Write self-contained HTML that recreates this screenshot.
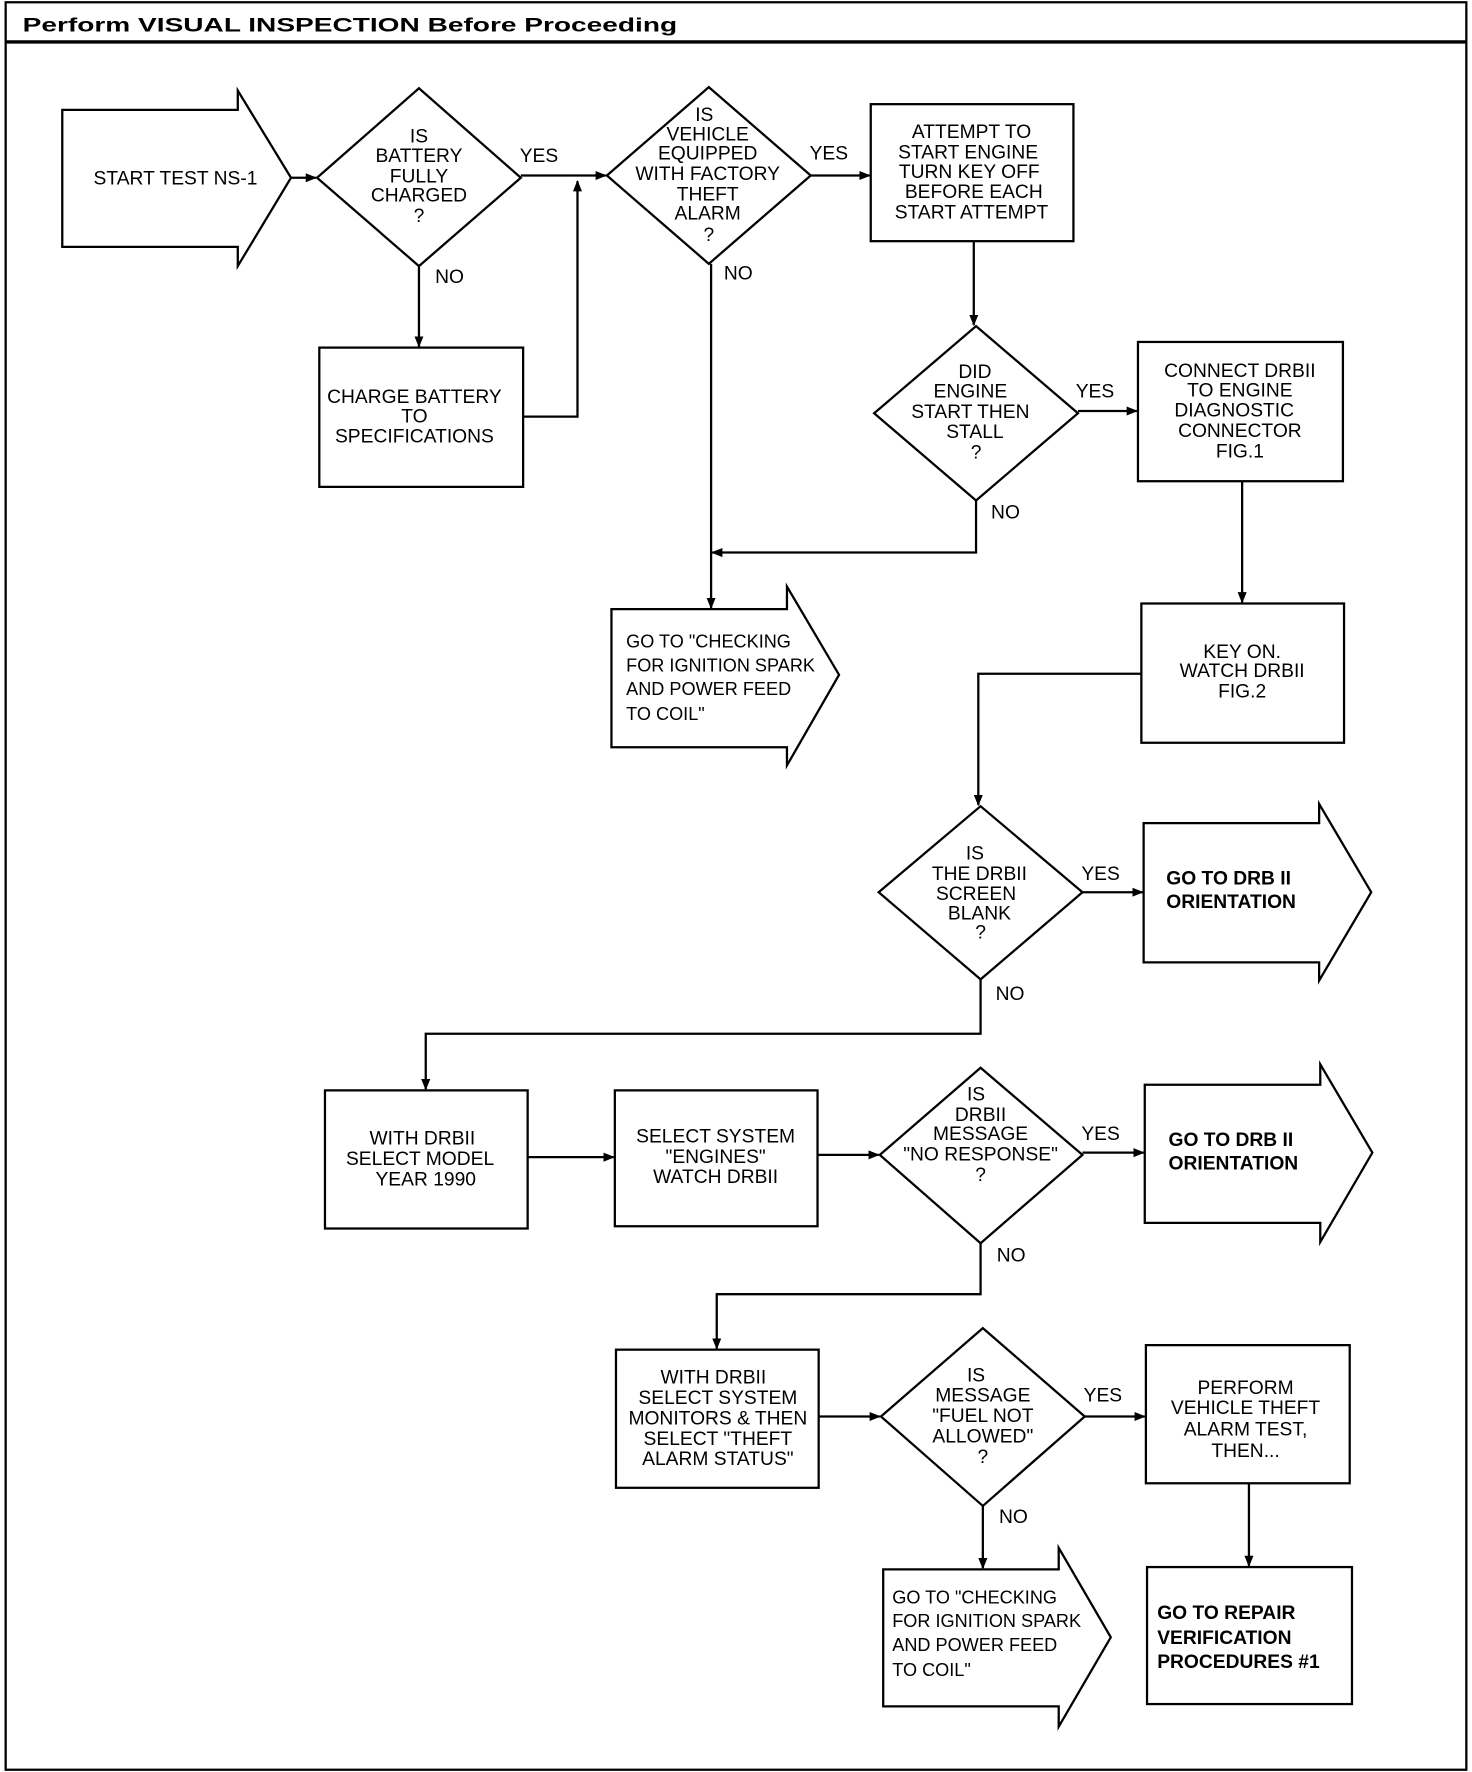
<!DOCTYPE html>
<html><head><meta charset="utf-8"><style>
html,body{margin:0;padding:0;background:#fff}
svg{display:block}
.t{font-family:"Liberation Sans Narrow","Liberation Sans",sans-serif;font-size:17px;text-anchor:middle;fill:#000}
.l{text-anchor:start;font-size:16px}
.b{font-family:"Liberation Sans",sans-serif;font-weight:bold;font-size:17px;fill:#000}
.s{fill:none;stroke:#000;stroke-width:2}
</style></head><body>
<svg width="1472" height="1772" viewBox="0 0 1300 1565" preserveAspectRatio="none" xmlns="http://www.w3.org/2000/svg">
<defs><marker id="a" markerWidth="10" markerHeight="10" refX="9" refY="5" orient="auto" markerUnits="userSpaceOnUse"><path d="M0,1 L10,5 L0,9 z" fill="#000"/></marker></defs>
<rect x="5" y="2" width="1290" height="1561" class="s" stroke-width="3"/>
<line x1="5" y1="37" x2="1295" y2="37" stroke="#000" stroke-width="3"/>
<text x="20" y="28" class="b" font-size="22" textLength="578" lengthAdjust="spacingAndGlyphs">Perform VISUAL INSPECTION Before Proceeding</text>

<g class="s">
<polygon points="55,97 210,97 210,80 257,157 210,235 210,218 55,218"/>
<polygon points="280,157 370,78 460,157 370,235"/>
<polygon points="536,155 626,77 716,155 626,233"/>
<rect x="769" y="92" width="179" height="121"/>
<polygon points="772,365 862,288 952,365 862,442"/>
<rect x="282" y="307" width="180" height="123"/>
<rect x="1005" y="302" width="181" height="123"/>
<rect x="1008" y="533" width="179" height="123"/>
<polygon points="540,538 695,538 695,518 741,596 695,676 695,660 540,660"/>
<polygon points="776,788 866,712 956,788 866,865"/>
<polygon points="1010,727 1165,727 1165,710 1211,788 1165,866 1165,850 1010,850"/>
<rect x="287" y="963" width="179" height="122"/>
<rect x="543" y="963" width="179" height="120"/>
<polygon points="777,1020 866,943 956,1020 866,1098"/>
<polygon points="1011,958 1166,958 1166,940 1212,1018 1166,1097 1166,1080 1011,1080"/>
<rect x="544" y="1192" width="179" height="122"/>
<polygon points="778,1251 868,1173 958,1251 868,1330"/>
<rect x="1012" y="1188" width="180" height="122"/>
<rect x="1013" y="1384" width="181" height="121"/>
<polygon points="780,1386 935,1386 935,1367 981,1446 935,1525 935,1507 780,1507"/>

<path d="M257,157 L279,157" marker-end="url(#a)"/>
<path d="M460,155 L535,155" marker-end="url(#a)"/>
<path d="M462,368 L510,368 L510,160" marker-end="url(#a)"/>
<path d="M370,235 L370,306" marker-end="url(#a)"/>
<path d="M716,155 L768,155" marker-end="url(#a)"/>
<path d="M628,233 L628,537" marker-end="url(#a)"/>
<path d="M860,213 L860,287" marker-end="url(#a)"/>
<path d="M952,363 L1004,363" marker-end="url(#a)"/>
<path d="M862,442 L862,488 L629,488" marker-end="url(#a)"/>
<path d="M1097,425 L1097,532" marker-end="url(#a)"/>
<path d="M1008,595 L864,595 L864,711" marker-end="url(#a)"/>
<path d="M956,788 L1009,788" marker-end="url(#a)"/>
<path d="M866,865 L866,913 L376,913 L376,962" marker-end="url(#a)"/>
<path d="M466,1022 L542,1022" marker-end="url(#a)"/>
<path d="M722,1020 L776,1020" marker-end="url(#a)"/>
<path d="M956,1018 L1010,1018" marker-end="url(#a)"/>
<path d="M866,1098 L866,1143 L633,1143 L633,1191" marker-end="url(#a)"/>
<path d="M723,1251 L777,1251" marker-end="url(#a)"/>
<path d="M958,1251 L1011,1251" marker-end="url(#a)"/>
<path d="M1103,1310 L1103,1383" marker-end="url(#a)"/>
<path d="M868,1330 L868,1385" marker-end="url(#a)"/>
</g>

<g class="t">
<text x="155" y="163">START TEST NS-1</text>
<text x="370" y="126">IS</text><text x="370" y="143">BATTERY</text><text x="370" y="161">FULLY</text><text x="370" y="178">CHARGED</text><text x="370" y="196">?</text>
<text x="476" y="143">YES</text><text x="397" y="250">NO</text>
<text x="366" y="356">CHARGE BATTERY</text><text x="366" y="373">TO</text><text x="366" y="391">SPECIFICATIONS</text>
<text x="622" y="107">IS</text><text x="625" y="124">VEHICLE</text><text x="625" y="141">EQUIPPED</text><text x="625" y="159">WITH FACTORY</text><text x="625" y="177">THEFT</text><text x="625" y="194">ALARM</text><text x="626" y="213">?</text>
<text x="732" y="141">YES</text><text x="652" y="247">NO</text>
<text x="858" y="122">ATTEMPT TO</text><text x="855" y="140">START ENGINE</text><text x="856" y="157">TURN KEY OFF</text><text x="860" y="175">BEFORE EACH</text><text x="858" y="193">START ATTEMPT</text>
<text x="861" y="334">DID</text><text x="857" y="351">ENGINE</text><text x="857" y="369">START THEN</text><text x="861" y="387">STALL</text><text x="862" y="405">?</text>
<text x="967" y="351">YES</text><text x="888" y="458">NO</text>
<text x="1095" y="333">CONNECT DRBII</text><text x="1095" y="350">TO ENGINE</text><text x="1090" y="368">DIAGNOSTIC</text><text x="1095" y="386">CONNECTOR</text><text x="1095" y="404">FIG.1</text>
<text x="1097" y="581">KEY ON.</text><text x="1097" y="598">WATCH DRBII</text><text x="1097" y="616">FIG.2</text>
<text class="t l" x="553" y="572">GO TO "CHECKING</text><text class="t l" x="553" y="593">FOR IGNITION SPARK</text><text class="t l" x="553" y="614">AND POWER FEED</text><text class="t l" x="553" y="636">TO COIL"</text>
<text x="861" y="759">IS</text><text x="865" y="777">THE DRBII</text><text x="862" y="795">SCREEN</text><text x="865" y="812">BLANK</text><text x="866" y="829">?</text>
<text x="972" y="777">YES</text><text x="892" y="883">NO</text>
<text x="373" y="1011">WITH DRBII</text><text x="371" y="1029">SELECT MODEL</text><text x="376" y="1047">YEAR 1990</text>
<text x="632" y="1009">SELECT SYSTEM</text><text x="632" y="1027">"ENGINES"</text><text x="632" y="1045">WATCH DRBII</text>
<text x="862" y="972">IS</text><text x="866" y="990">DRBII</text><text x="866" y="1007">MESSAGE</text><text x="866" y="1025">"NO RESPONSE"</text><text x="866" y="1043">?</text>
<text x="972" y="1007">YES</text><text x="893" y="1114">NO</text>
<text x="630" y="1222">WITH DRBII</text><text x="634" y="1240">SELECT SYSTEM</text><text x="634" y="1258">MONITORS &amp; THEN</text><text x="634" y="1276">SELECT "THEFT</text><text x="634" y="1294">ALARM STATUS"</text>
<text x="862" y="1220">IS</text><text x="868" y="1238">MESSAGE</text><text x="868" y="1256">"FUEL NOT</text><text x="868" y="1274">ALLOWED"</text><text x="868" y="1292">?</text>
<text x="974" y="1238">YES</text><text x="895" y="1345">NO</text>
<text x="1100" y="1231">PERFORM</text><text x="1100" y="1249">VEHICLE THEFT</text><text x="1100" y="1268">ALARM TEST,</text><text x="1100" y="1287">THEN...</text>
<text class="t l" x="788" y="1416">GO TO "CHECKING</text><text class="t l" x="788" y="1437">FOR IGNITION SPARK</text><text class="t l" x="788" y="1458">AND POWER FEED</text><text class="t l" x="788" y="1480">TO COIL"</text>
</g>
<g class="b">
<text x="1030" y="781">GO TO DRB II</text><text x="1030" y="802">ORIENTATION</text>
<text x="1032" y="1012">GO TO DRB II</text><text x="1032" y="1033">ORIENTATION</text>
<text x="1022" y="1430">GO TO REPAIR</text><text x="1022" y="1452">VERIFICATION</text><text x="1022" y="1473">PROCEDURES #1</text>
</g>
</svg>
</body></html>
